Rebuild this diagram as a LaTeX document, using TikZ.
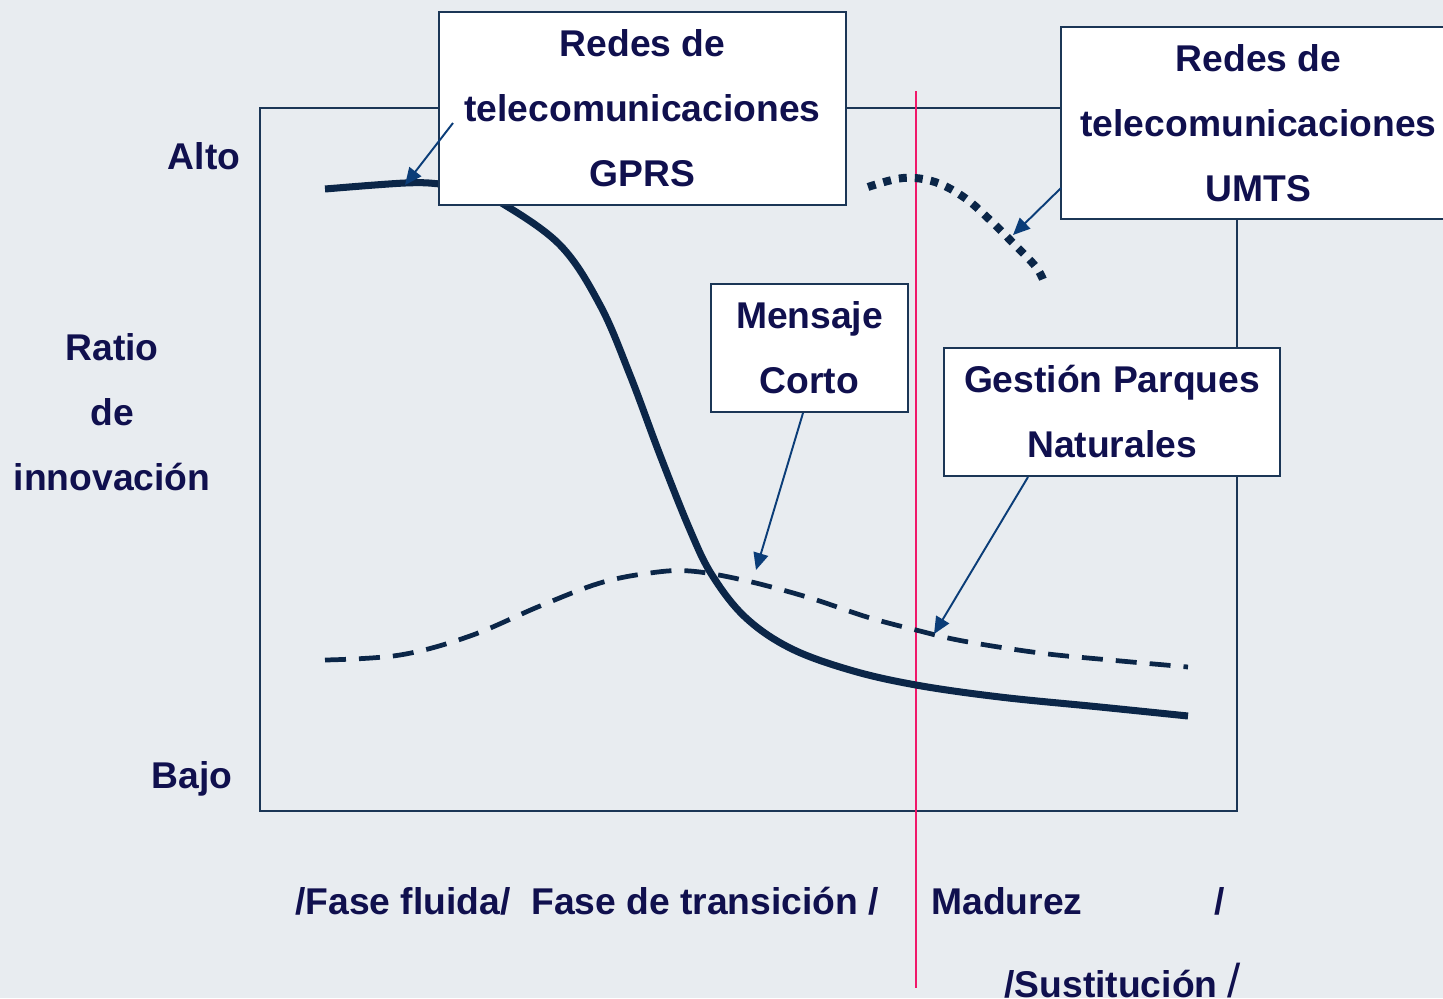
\documentclass[tikz,border=0pt]{standalone}
\usepackage{fontspec}
\setmainfont{Liberation Sans}
\usetikzlibrary{arrows.meta}
\definecolor{bg}{HTML}{E8ECF0}
\definecolor{ink}{HTML}{10104E}
\definecolor{curve}{HTML}{0B2648}
\definecolor{arrowc}{HTML}{0B3D78}
\definecolor{framec}{HTML}{1B3656}
\definecolor{pinkline}{HTML}{F0186A}
\tikzset{
  lbl/.style={font=\bfseries\fontsize{21.2}{37}\selectfont, text=ink, inner sep=0pt, align=center},
  callout/.style={lbl, draw=framec, line width=1.1pt, fill=white},
  pointer/.style={draw=arrowc, line width=1.1pt, -{Triangle[length=0.34cm,width=0.3cm]}},
}
\begin{document}
\begin{tikzpicture}[x=0.02cm,y=-0.02cm]
\useasboundingbox (0,0) rectangle (1443,998);
\fill[bg] (0,0) rectangle (1443,998);
% frame
\draw[framec, line width=0.9pt] (260,108) rectangle (1237,811);
% pink line
\draw[pinkline, line width=1.2pt] (916,91) -- (916,988);
% solid curve
\draw[curve, line width=4pt, line cap=butt] plot[smooth, tension=0.6] coordinates {
 (325,189) (405,183) (440,184) (470,189) (500,202) (560,245) (600,305) (630,375) (660,455) (690,530) (712,575) (745,617) (790,648) (850,670) (916,685) (1000,697) (1100,707) (1188,716)};
% dashed curve
\draw[curve, line width=2.7pt, dash pattern=on 0.42cm off 0.26cm] plot[smooth, tension=0.6] coordinates {
 (325,660) (400,655) (470,636) (540,606) (600,583) (650,573) (690,571) (743,580) (807,597) (867,617) (916,630) (963,641) (1040,653) (1110,660) (1188,667)};
% dotted curve
\draw[curve, line width=0.16cm, dash pattern=on 0.16cm off 0.16cm] plot[smooth, tension=0.6] coordinates {
 (868,187) (903,178) (935,182) (965,198) (991,221) (1014,244) (1036,267) (1044,282)};
% callout boxes
\node[callout, minimum width=8.14cm, minimum height=3.86cm] (gprs) at (642.5,108.5) {Redes de\\telecomunicaciones\\GPRS};
\node[callout, minimum width=7.9cm, minimum height=3.84cm] (umts) at (1258.5,123) {Redes de\\telecomunicaciones\\UMTS};
\node[callout, minimum width=3.94cm, minimum height=2.56cm] (sms) at (809.5,348) {Mensaje\\Corto};
\node[callout, minimum width=6.72cm, minimum height=2.56cm] (parques) at (1112,412) {Gestión Parques\\Naturales};
% pointers
\coordinate (p1s) at (453,123); \coordinate (p1e) at (405,185);
\coordinate (p2s) at (1061,188); \coordinate (p2e) at (1013,235);
\coordinate (p3s) at (803,413); \coordinate (p3e) at (756,570);
\coordinate (p4s) at (1028,477); \coordinate (p4e) at (934,634);
\draw[pointer] (p1s) -- (p1e);
\draw[pointer] (p2s) -- (p2e);
\draw[pointer] (p3s) -- (p3e);
\draw[pointer] (p4s) -- (p4e);
% axis labels
\node[lbl] (alto) at (204,156) {Alto};
\node[lbl] (ratio) at (112,412) {Ratio\\de\\innovación};
\node[lbl] (bajo) at (192,779) {Bajo};
% phase labels
\node[lbl, anchor=west] (fases) at (295,901) {/Fase fluida/\ \ Fase de transición /};
\node[lbl, anchor=west] (madurez) at (931,901) {Madurez};
\node[lbl] (slash) at (1220,901) {/};
\node[lbl, anchor=west] (sust) at (1004,981) {/Sustitución {\mdseries\fontsize{27}{27}\selectfont /}};
\end{tikzpicture}
\end{document}
